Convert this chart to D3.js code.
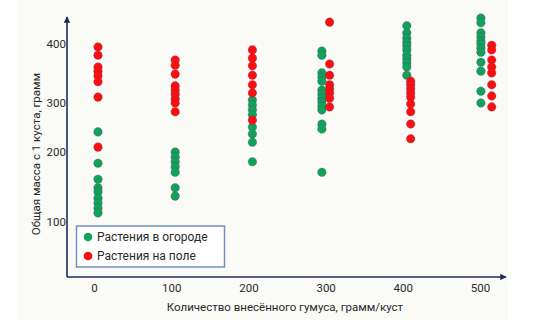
<!DOCTYPE html>
<html>
<head>
<meta charset="utf-8">
<script src="https://cdn.jsdelivr.net/npm/d3@7"></script>
<style>
  html, body { margin: 0; padding: 0; background: #ffffff; }
  svg { display: block; font-family: Roboto, "Noto Sans", sans-serif; }
</style>
</head>
<body>
<svg id="chart" width="533" height="335"></svg>
<script>
// ---- data ----
const humus = [0, 100, 200, 300, 400, 500];           // x categories (gram / bush)
const xTickLabels = ["0", "100", "200", "300", "400", "500"];
const yTicks = [100, 200, 300, 400];
const gardenX = [0, 100, 200, 290, 400, 496];          // humus amount for garden plants per group
const fieldX  = [0, 100, 200, 300, 405, 510];          // humus amount for field plants per group
const gardenMass = [
  [241, 184, 161, 149, 143, 134, 127, 120, 113],
  [200, 193, 186, 179, 171, 149, 137],
  [305, 296, 286, 276, 251, 237, 220, 186],
  [388, 381, 351, 344, 337, 322, 315, 308, 302, 294, 286, 257, 247, 171],
  [431, 419, 410, 403, 397, 390, 381, 375, 368, 361, 347],
  [444, 436, 419, 412, 405, 400, 393, 386, 369, 354, 320, 300]
];
const fieldMass = [
  [395, 381, 361, 354, 346, 336, 310, 210],
  [373, 364, 349, 329, 322, 315, 307, 300, 282],
  [390, 376, 363, 347, 331, 317, 265],
  [437, 366, 347, 331, 324, 317, 308, 292],
  [337, 331, 324, 317, 310, 298, 282, 257, 227],
  [398, 390, 373, 361, 351, 331, 312, 292]
];
const seriesNames = ["Растения в огороде", "Растения на поле"];
const seriesColors = ["#12a159", "#ff0d0d"];
const xTitle = "Количество внесённого гумуса, грамм/куст";
const yTitle = "Общая масса с 1 куста, грамм";

// ---- layout ----
const svg = d3.select("#chart");
const axisColor = "#1f2a5c";
const textColor = "#2a2a2a";
const originX = 67, originY = 277;

svg.append("rect").attr("x", 18).attr("y", 0).attr("width", 490).attr("height", 320)
  .attr("fill", "#fafaf7");

const x = d3.scaleLinear().domain([0, 500]).range([98, 484]);
const y = d3.scaleLinear().domain([100, 200, 300, 400]).range([222, 152, 103, 44]);

// arrow marker
const defs = svg.append("defs");
defs.append("marker").attr("id", "arrow").attr("viewBox", "0 0 10 10")
  .attr("refX", 9).attr("refY", 5).attr("markerWidth", 4).attr("markerHeight", 4)
  .attr("orient", "auto")
  .append("path").attr("d", "M0,0 L10,5 L0,10 z").attr("fill", axisColor);

// axes lines
svg.append("line").attr("x1", originX).attr("y1", originY).attr("x2", originX).attr("y2", 17)
  .attr("stroke", axisColor).attr("stroke-width", 1.6).attr("marker-end", "url(#arrow)");
svg.append("line").attr("x1", originX).attr("y1", originY).attr("x2", 506).attr("y2", originY)
  .attr("stroke", axisColor).attr("stroke-width", 1.6).attr("marker-end", "url(#arrow)");

// y axis ticks
const yAxis = svg.append("g").attr("transform", `translate(${originX},0)`)
  .call(d3.axisLeft(y).tickValues(yTicks).tickSize(0).tickPadding(1).tickFormat(d3.format("d")));
yAxis.select(".domain").remove();
yAxis.selectAll("text").attr("font-size", 11.5).attr("fill", textColor).attr("font-family", "Roboto");

// x axis ticks
const xAxis = svg.append("g").attr("transform", `translate(0,${originY})`)
  .call(d3.axisBottom(x).tickValues(humus).tickSize(0).tickPadding(7)
    .tickFormat((d, i) => xTickLabels[i]));
xAxis.select(".domain").remove();
xAxis.selectAll("text").attr("font-size", 11.5).attr("fill", textColor).attr("dx", -4)
  .attr("font-family", "Roboto");

// titles
svg.append("text").attr("x", 285).attr("y", 311).attr("text-anchor", "middle")
  .attr("font-size", 11.5).attr("fill", textColor).text(xTitle);
svg.append("text").attr("transform", "translate(40,154) rotate(-90)")
  .attr("text-anchor", "middle").attr("font-size", 11.5).attr("fill", textColor).text(yTitle);

// points
function pts(xs, masses) {
  const out = [];
  masses.forEach((arr, i) => arr.forEach(v => out.push({ x: xs[i], v })));
  return out;
}
const series = [pts(gardenX, gardenMass), pts(fieldX, fieldMass)];
series.forEach((data, si) => {
  svg.append("g").selectAll("circle").data(data).join("circle")
    .attr("cx", d => x(d.x)).attr("cy", d => y(d.v)).attr("r", 4.3)
    .attr("fill", seriesColors[si])
    .attr("stroke", "rgba(80,70,120,0.45)").attr("stroke-width", 0.7);
});

// legend
const lg = svg.append("g");
lg.append("rect").attr("x", 76.5).attr("y", 226).attr("width", 148).attr("height", 41)
  .attr("fill", "#ffffff").attr("stroke", "#6f90c0").attr("stroke-width", 1.5);
seriesNames.forEach((name, i) => {
  lg.append("circle").attr("cx", 88).attr("cy", 237 + i * 19).attr("r", 4.3)
    .attr("fill", seriesColors[i]);
  lg.append("text").attr("x", 97).attr("y", 241 + i * 19).attr("font-size", 12)
    .attr("fill", textColor).text(name);
});
</script>
</body>
</html>
